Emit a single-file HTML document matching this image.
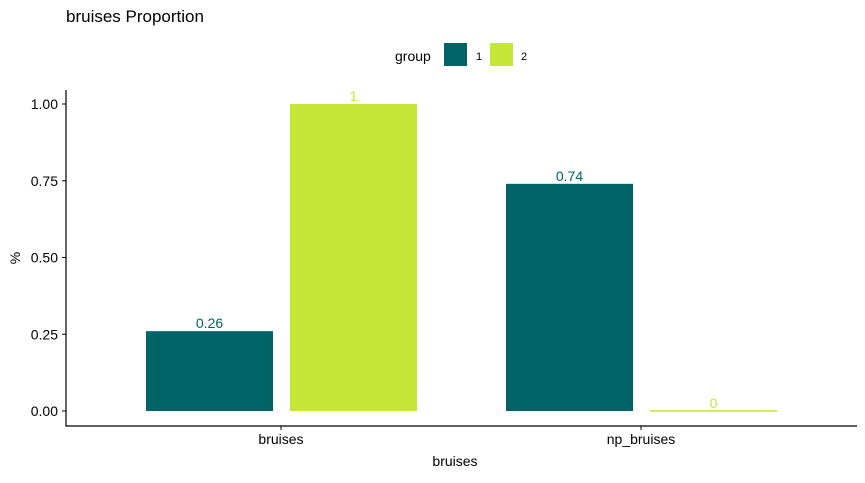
<!DOCTYPE html>
<html><head><meta charset="utf-8"><style>
body{margin:0;background:#fff;}
svg text{font-family:"Liberation Sans",sans-serif;}
</style></head><body>
<svg id="chart" width="865" height="478" xmlns="http://www.w3.org/2000/svg">
<text x="66" y="22" font-size="17" fill="#000">bruises Proportion</text>
<g>
<text x="395" y="61" font-size="14" fill="#000">group</text>
<rect x="444" y="43" width="23" height="23" fill="#006466"/>
<text x="476" y="60" font-size="11">1</text>
<rect x="490" y="43" width="23" height="23" fill="#c5e537"/>
<text x="521" y="60" font-size="11">2</text>
</g>
<line x1="66" y1="90" x2="66" y2="426.5" stroke="#000" stroke-width="1.2"/>
<line x1="65.5" y1="426" x2="857" y2="426" stroke="#000" stroke-width="1.2"/>
<text transform="translate(20,258) rotate(-90)" text-anchor="middle" font-size="14">%</text>
<text x="455" y="466" text-anchor="middle" font-size="14">bruises</text>
</svg>
<script>
const categories = ["bruises", "np_bruises"];
const group1 = [0.26, 0.74];
const group2 = [1, 0];
const yTicks = [0, 0.25, 0.5, 0.75, 1];
const yTickLabels = ["0.00", "0.25", "0.50", "0.75", "1.00"];

const colors = ["#006466", "#c5e537"];
const y = v => 411 - v * 307;
const xc = i => 281 + i * 360;
const svg = document.getElementById('chart');
const ns = "http://www.w3.org/2000/svg";
function mk(tag, attrs, txt) {
  const e = document.createElementNS(ns, tag);
  for (const k in attrs) e.setAttribute(k, attrs[k]);
  if (txt !== undefined) e.textContent = txt;
  svg.appendChild(e);
  return e;
}
yTicks.forEach((t, i) => {
  const l = mk('line', {x1: 62, x2: 66, y1: y(t), y2: y(t), stroke: '#000'});
  
  
  const tx = mk('text', {x: 58, y: y(t) + 5, 'text-anchor': 'end', 'font-size': 14}, yTickLabels[i]);
  
  
});
categories.forEach((c, i) => {
  const l = mk('line', {x1: xc(i), x2: xc(i), y1: 426, y2: 430, stroke: '#000'});
  
  
  const tx = mk('text', {x: xc(i), y: 444, 'text-anchor': 'middle', 'font-size': 14}, c);
  
  
  [group1, group2].forEach((s, g) => {
    const v = s[i];
    const bx = xc(i) + (g === 0 ? -135 : 9);
    const h = y(0) - y(v);
    const r = mk('rect', {x: bx, y: h < 1 ? y(0) - 0.5 : y(v), width: 127, height: Math.max(h, 1), fill: colors[g], stroke: colors[g], 'stroke-width': h < 1 ? 0.5 : 0});
    
    
    const lb = mk('text', {x: bx + 63.5, y: y(v) - 3, 'text-anchor': 'middle', 'font-size': 14, fill: colors[g]}, String(v));
    
    
  });
});
</script>
</body></html>
